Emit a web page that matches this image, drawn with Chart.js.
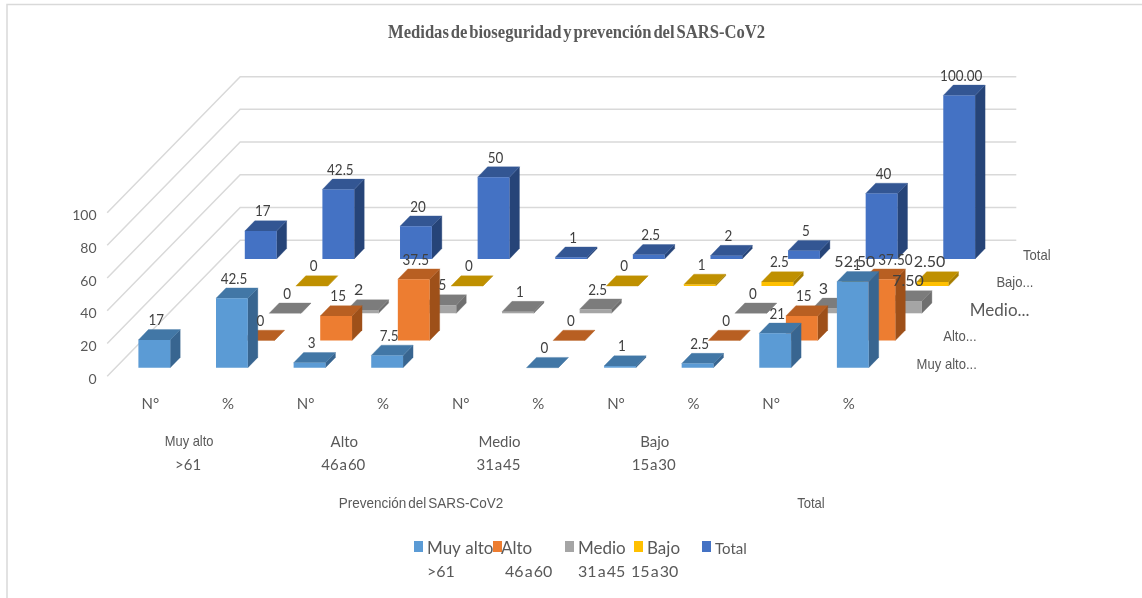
<!DOCTYPE html>
<html>
<head>
<meta charset="utf-8">
<title>Medidas de bioseguridad</title>
<script src="https://cdn.jsdelivr.net/npm/chart.js@4"></script>
<style>
  html, body { margin: 0; padding: 0; background: #fff; }
  canvas { display: block; }
</style>
</head>
<body>
<canvas id="chart" width="1142" height="598"></canvas>
<script>
'use strict';

// chart data
const chartTitle = 'Medidas de bioseguridad y prevención del SARS-CoV2';
const categories = ['N°', '%', 'N°', '%', 'N°', '%', 'N°', '%', 'N°', '%'];
const groupNames = ['Muy alto', 'Alto', 'Medio', 'Bajo'];
const groupRanges = ['>61', '46 a 60', '31 a 45', '15 a 30'];
const outerNames = ['Prevención del SARS-CoV2', 'Total'];
const yTicks = [0, 20, 40, 60, 80, 100];

const seriesNames = ['Muy alto', 'Alto', 'Medio', 'Bajo', 'Total'];
const seriesRanges = ['>61', '46 a 60', '31 a 45', '15 a 30', ''];

const muyAlto = [17, 42.5, 3, 7.5, null, 0, 1, 2.5, 21, 52.5];
const alto = [null, 0, 15, 37.5, null, 0, null, 0, 15, 37.5];
const medio = [null, 0, 2, 5, 1, 2.5, null, 0, 3, 7.5];
const bajo = [null, 0, null, 0, null, 0, 1, 2.5, 1, 2.5];
const total = [17, 42.5, 20, 50, 1, 2.5, 2, 5, 40, 100];

// front, top and side colour of each row
const frontColors = ['#5B9BD5', '#ED7D31', '#A5A5A5', '#FFC000', '#4472C4'];
const topColors = ['#4277A6', '#B85F22', '#7C7C7C', '#BF9000', '#335693'];
const sideColors = ['#386590', '#9E5019', '#6F6F6F', '#A67D00', '#264478'];

// oblique projection, in pixels
const rowDx = 26.6, rowDy = 27.2;   // one row further back
const barDx = 10, barDy = 10.3;     // depth of a bar
const floorDx = (rowDx - barDx) / 2, floorDy = (rowDy - barDy) / 2;

const textColor = '#595959';
const valueColor = '#404040';
const wide = 'Lato, sans-serif';
const plain = '"Liberation Sans", sans-serif';

function setFace(ctx, color, points) {
    ctx.fillStyle = color;
    ctx.strokeStyle = color + '55';
    ctx.lineWidth = 1;
    ctx.beginPath();
    ctx.moveTo(points[0], points[1]);
    for (let i = 2; i < points.length; i += 2) {
        ctx.lineTo(points[i], points[i + 1]);
    }
    ctx.closePath();
    ctx.stroke();
    ctx.fill();
}

// squeeze narrows the text, wordGap tightens the spaces
function writeText(ctx, text, x, y, font, opts) {
    const o = opts || {};
    ctx.font = font;
    ctx.fillStyle = o.color || textColor;
    ctx.textAlign = o.align || 'center';
    ctx.textBaseline = 'middle';
    ctx.wordSpacing = o.wordGap || '0px';
    const width = ctx.measureText(text).width;
    ctx.fillText(text, x, y, width * (o.squeeze || 1));
    ctx.wordSpacing = '0px';
}

function barLabel(value, index) {
    return index === 9 ? value.toFixed(2) : String(value);
}

// a few labels were moved aside by hand so they do not collide: [row, category, dx]
const labelMoves = [[1, 9, 14], [2, 8, -7], [2, 2, -6], [3, 9, -5]];

function labelShift(row, i) {
    const move = labelMoves.find(function (m) { return m[0] === row && m[1] === i; });
    return move ? move[2] : 0;
}

// these few come out wider than the rest
function labelSqueeze(row, i) {
    if ((row === 2 && (i === 2 || i >= 8)) || (row === 3 && i === 9) || (row === 0 && i === 9)) {
        return 1;
    }
    return 0.84;
}

// grid on the side and back walls
const wallsPlugin = {
    id: 'walls',
    beforeDatasetsDraw(chart) {
        const ctx = chart.ctx;
        const yScale = chart.scales.y;
        const area = chart.chartArea;
        const depthX = rowDx * seriesNames.length;
        const depthY = rowDy * seriesNames.length;
        ctx.wordSpacing = '0px';
        ctx.save();
        ctx.strokeStyle = '#D9D9D9';
        ctx.lineWidth = 1.5;
        yTicks.forEach(function (tick) {
            const x = area.left - floorDx;
            const y = yScale.getPixelForValue(tick) + floorDy;
            ctx.beginPath();
            ctx.moveTo(x, y);
            ctx.lineTo(x + depthX, y - depthY);
            ctx.lineTo(x + depthX + area.width, y - depthY);
            ctx.stroke();
        });
        ctx.restore();
    },
};

// pushes each dataset back to its own row and adds the top and side faces
const depthPlugin = {
    id: 'depth',
    beforeDatasetDraw(chart, args) {
        const ctx = chart.ctx;
        const row = args.index;
        ctx.save();
        ctx.translate(rowDx * row, -rowDy * row);
        args.meta.data.forEach(function (bar, i) {
            if (chart.data.datasets[row].data[i] === null) {
                return;
            }
            const left = bar.x - bar.width / 2;
            const right = bar.x + bar.width / 2;
            setFace(ctx, sideColors[row], [right, bar.y, right + barDx, bar.y - barDy, right + barDx, bar.base - barDy, right, bar.base]);
            setFace(ctx, topColors[row], [left, bar.y, left + barDx, bar.y - barDy, right + barDx, bar.y - barDy, right, bar.y]);
        });
    },
    afterDatasetDraw(chart) {
        chart.ctx.restore();
    },
    afterDatasetsDraw(chart) {
        const ctx = chart.ctx;
        // value labels sit above everything, back row first
        for (let row = seriesNames.length - 1; row >= 0; row--) {
            const meta = chart.getDatasetMeta(row);
            const values = chart.data.datasets[row].data;
            meta.data.forEach(function (bar, i) {
                if (values[i] === null) {
                    return;
                }
                const x = bar.x + rowDx * row + 2 + labelShift(row, i);
                const y = bar.y - rowDy * row - barDy - 9.5;
                writeText(ctx, barLabel(values[i], i), x, y, '16px ' + wide, { squeeze: labelSqueeze(row, i), color: valueColor });
            });
        }
    },
};

// second and third level of the category axis, row names, legend
const textPlugin = {
    id: 'axisText',
    afterLayout(chart) {
        // title box set to the width the heading takes, maxWidth does the rest
        chart.titleBlock.left = 388;
        chart.titleBlock.right = 765;
    },
    beforeDraw(chart) {
        // heading has almost no gap between words
        chart.ctx.wordSpacing = '-2.5px';
    },
    afterDraw(chart) {
        const ctx = chart.ctx;
        const xScale = chart.scales.x;
        const area = chart.chartArea;

        groupNames.forEach(function (name, g) {
            const x = (xScale.getPixelForValue(g * 2) + xScale.getPixelForValue(g * 2 + 1)) / 2;
            writeText(ctx, name, x - 4, 442, '15px ' + (g === 0 ? plain : wide), { squeeze: g === 0 ? 0.86 : 1 });
            writeText(ctx, groupRanges[g], x - 5, 465, '15px ' + wide, { wordGap: '-3px' });
        });
        const split = (xScale.getPixelForValue(7) + xScale.getPixelForValue(8)) / 2;
        writeText(ctx, outerNames[0], (area.left + split) / 2 - 5, 504, '15px ' + plain, { squeeze: 0.9, wordGap: '-2px' });
        writeText(ctx, outerNames[1], (split + area.right) / 2 - 3, 504, '15px ' + plain, { squeeze: 0.87 });

        seriesNames.forEach(function (name, row) {
            const x = area.left - floorDx + area.width + rowDx * (row + 0.5) + 20;
            const y = area.bottom + floorDy - rowDy * (row + 0.5) + 2;
            const text = seriesRanges[row] ? name + '...' : name;
            writeText(ctx, text, x, y, row === 2 ? '17px ' + wide : '15px ' + plain, { align: 'left', squeeze: row === 2 ? 1 : 0.87 });
        });

        const swatchX = [414, 493, 565, 634, 702];
        const nameX = [427, 501, 578, 647, 715];
        const rangeX = [427, 505, 578, 631];
        seriesNames.forEach(function (name, s) {
            writeText(ctx, name, nameX[s], 549, (s === 4 ? '15px ' : '17px ') + wide, { align: 'left' });
            if (seriesRanges[s]) {
                writeText(ctx, seriesRanges[s], rangeX[s], 572, '16px ' + wide, { align: 'left', wordGap: '-3px' });
            }
        });
        seriesNames.forEach(function (name, s) {
            ctx.fillStyle = frontColors[s];
            ctx.fillRect(swatchX[s], 541, 9, 11);
        });

        // frame: only the top and left edges are there
        ctx.save();
        ctx.strokeStyle = '#D9D9D9';
        ctx.lineWidth = 1.5;
        ctx.beginPath();
        ctx.moveTo(7, chart.height);
        ctx.lineTo(7, 4.5);
        ctx.lineTo(chart.width, 4.5);
        ctx.stroke();
        ctx.restore();
    },
};

const datasets = [muyAlto, alto, medio, bajo, total].map(function (values, row) {
    return {
        label: seriesNames[row],
        data: values,
        backgroundColor: frontColors[row],
        clip: false,
    };
});

new Chart(document.getElementById('chart'), {
    type: 'bar',
    data: { labels: categories, datasets: datasets },
    plugins: [wallsPlugin, depthPlugin, textPlugin],
    options: {
        responsive: false,
        animation: false,
        maintainAspectRatio: false,
        devicePixelRatio: 1,
        datasets: { bar: { grouped: false, barPercentage: 1, categoryPercentage: 0.41 } },
        layout: { padding: { left: 0, right: 250.4, top: 0, bottom: 0 } },
        plugins: {
            legend: { display: false },
            tooltip: { enabled: false },
            title: {
                display: true,
                text: chartTitle,
                color: textColor,
                font: { family: '"Liberation Serif", serif', size: 18, weight: 'bold' },
                padding: { top: 23, bottom: 159.6 },
            },
        },
        scales: {
            x: {
                grid: { display: false },
                border: { display: false },
                ticks: {
                    color: textColor,
                    font: { family: 'Lato', size: 15 },
                    padding: 19,
                    maxRotation: 0,
                    autoSkip: false,
                    labelOffset: -4,
                },
                afterFit(scale) { scale.height = 230.3; },
            },
            y: {
                min: 0,
                max: 100,
                grid: { display: false },
                border: { display: false },
                afterBuildTicks(scale) { scale.ticks = yTicks.map(function (v) { return { value: v }; }); },
                ticks: {
                    color: textColor,
                    font: { family: 'Lato', size: 14 },
                    padding: 11,
                    labelOffset: 11.5,
                },
                afterFit(scale) { scale.width = 115.5; },
            },
        },
    },
});
</script>
</body>
</html>
